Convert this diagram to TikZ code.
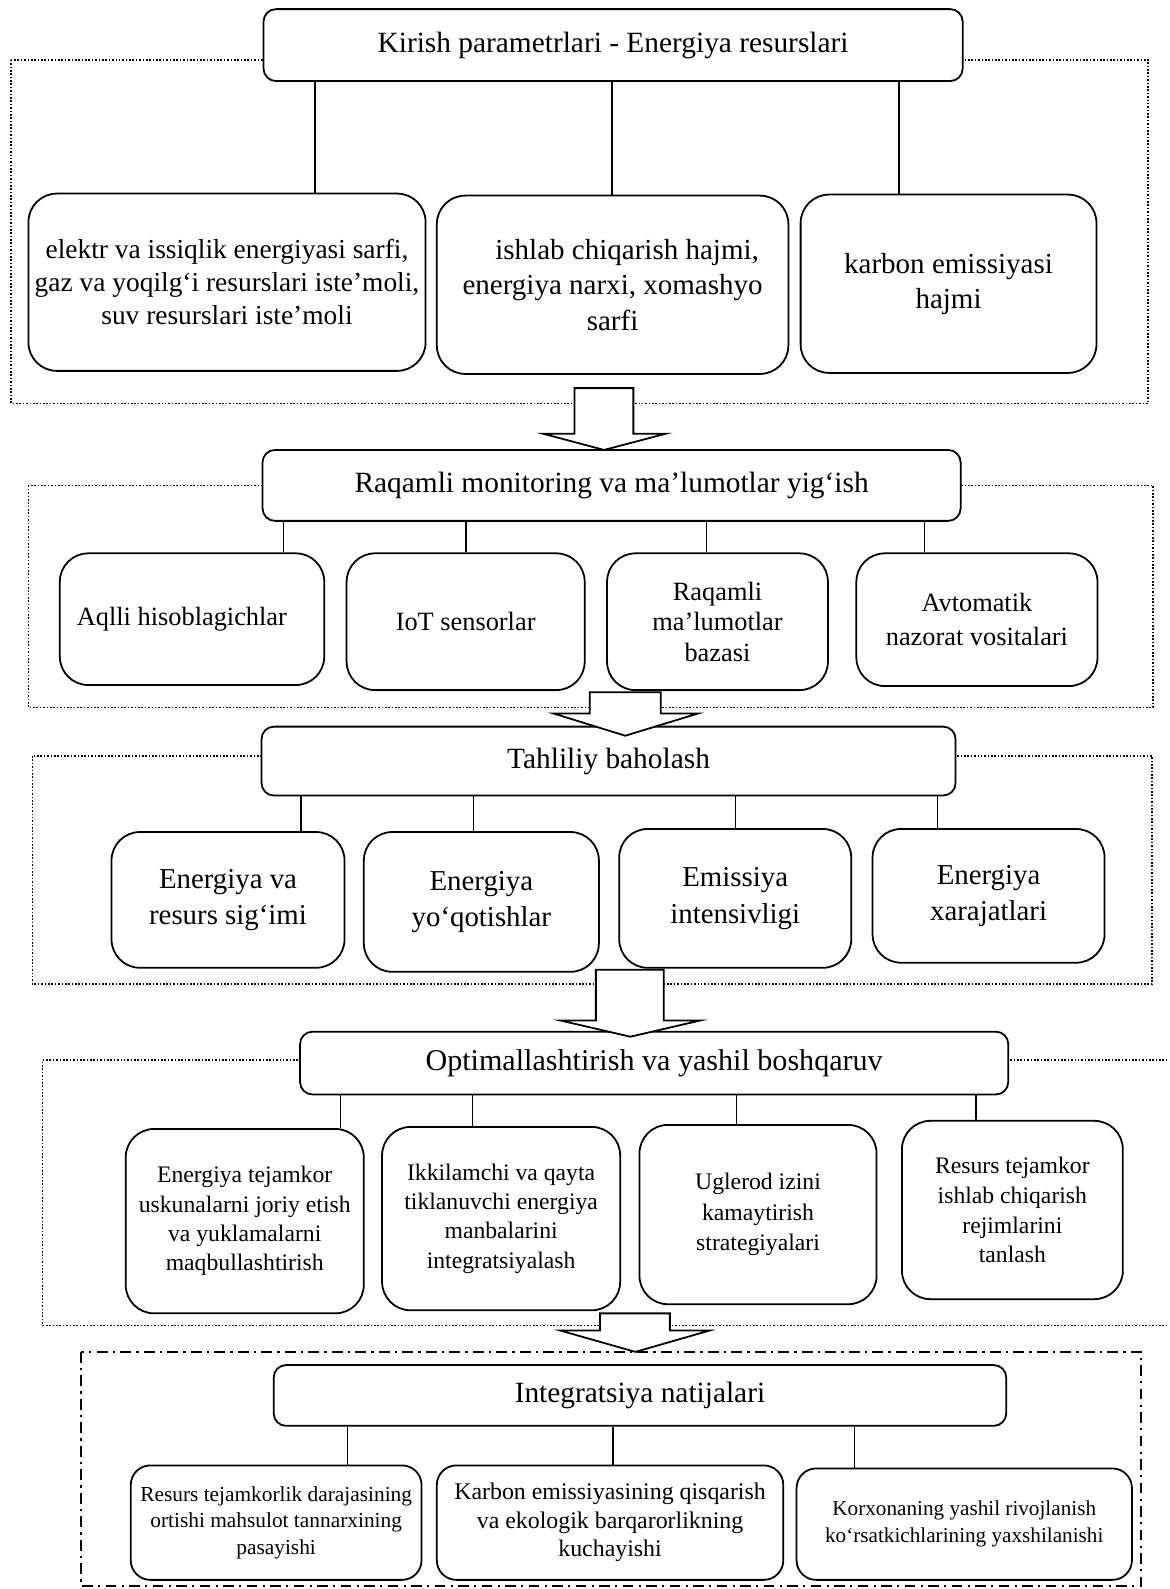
\documentclass[tikz,border=0pt]{standalone}
\usepackage{fontspec}
\setmainfont{Liberation Serif}
\usepackage{tikz}

\tikzset{
	headbox/.style={draw, fill=white, line width=1pt, rounded corners=7pt, align=center, font=\fontsize{16.5}{20}\selectfont},
	itembox/.style={draw, fill=white, line width=1pt, rounded corners=16pt, align=center, inner sep=1pt},
	fsz/.style 2 args={font=\fontsize{#1}{#2}\selectfont},
	dotframe/.style={densely dotted, line width=0.9pt},
	dashframe/.style={line width=0.9pt, dash pattern=on 6pt off 3pt on 1.2pt off 3pt},
	link/.style={line width=0.8pt},
	bigarrow/.style={draw, fill=white, line width=1pt, line join=miter},
}

\begin{document}
\begin{tikzpicture}[x=0.02cm, y=-0.02cm]
	\useasboundingbox (0,0) rectangle (1154,1568);
	\draw[dotframe] (11,59) rectangle (1133,398);
	\draw[dotframe] (28,479) rectangle (1138,698);
	\draw[dotframe] (32,746) rectangle (1137,971);
	\draw[dotframe] (1152,1046) -- (42,1046) -- (42,1308) -- (1152,1308);
	\draw[dashframe] (80,1334) rectangle (1126,1565);

	\node[headbox, minimum width=13.8cm, minimum height=1.42cm] (kirish) at (605,44.5) {Kirish parametrlari - Energiya resurslari};
	\node[itembox, fsz={15.4}{18.5}, minimum width=7.84cm, minimum height=3.5cm] (sarf) at (224,278.5) {elektr va issiqlik energiyasi sarfi,\\ gaz va yoqilg‘i resurslari iste’moli,\\ suv resurslari iste’moli};
	\node[itembox, fsz={16.3}{19.9}, minimum width=6.94cm, minimum height=3.52cm] (hajm) at (604.5,281) {\hspace*{1em}ishlab chiqarish hajmi,\\ energiya narxi, xomashyo\\ sarfi};
	\node[itembox, fsz={16.3}{19.9}, minimum width=5.84cm, minimum height=3.52cm] (karbon) at (936,280) {karbon emissiyasi\\ hajmi};

	\node[headbox, minimum width=13.78cm, minimum height=1.4cm] (monitor) at (603.5,479) {Raqamli monitoring va ma’lumotlar yig‘ish};
	\node[itembox, fsz={14.8}{17}, minimum width=5.22cm, minimum height=2.6cm] (hisob) at (189.5,611) {Aqlli hisoblagichlar\hspace*{0.4cm}};
	\node[itembox, fsz={14.8}{17}, minimum width=4.7cm, minimum height=2.7cm] (sensor) at (459.5,613.5) {IoT sensorlar};
	\node[itembox, fsz={14.8}{17}, minimum width=4.36cm, minimum height=2.7cm] (baza) at (708,613.5) {Raqamli\\ ma’lumotlar\\ bazasi};
	\node[itembox, fsz={14.8}{18.8}, minimum width=4.76cm, minimum height=2.62cm] (nazorat) at (964,611.5) {Avtomatik\\ nazorat vositalari};

	\node[headbox, minimum width=13.7cm, minimum height=1.36cm] (tahlil) at (600.5,751) {Tahliliy baholash};
	\node[itembox, fsz={16.2}{20.5}, minimum width=4.6cm, minimum height=2.68cm] (sigim) at (225,888) {Energiya va\\ resurs sig‘imi};
	\node[itembox, fsz={16.2}{20.5}, minimum width=4.64cm, minimum height=2.76cm] (yoqot) at (475,890) {Energiya\\ yo‘qotishlar};
	\node[itembox, fsz={16.2}{20.5}, minimum width=4.58cm, minimum height=2.74cm] (intens) at (725.5,886.5) {Emissiya\\ intensivligi};
	\node[itembox, fsz={16.2}{20.5}, minimum width=4.58cm, minimum height=2.64cm] (xarajat) at (975.5,884) {Energiya\\ xarajatlari};

	\node[headbox, minimum width=13.98cm, minimum height=1.24cm, fsz={16.9}{20}] (optim) at (645.5,1049) {Optimallashtirish va yashil boshqaruv};
	\node[itembox, fsz={13.3}{16.5}, minimum width=4.7cm, minimum height=3.64cm] (uskuna) at (241.5,1205) {Energiya tejamkor\\ uskunalarni joriy etish\\ va yuklamalarni\\ maqbullashtirish};
	\node[itembox, fsz={13.3}{16.5}, minimum width=4.7cm, minimum height=3.62cm] (manba) at (494.5,1202.5) {Ikkilamchi va qayta\\ tiklanuvchi energiya\\ manbalarini\\ integratsiyalash};
	\node[itembox, fsz={13.3}{17}, minimum width=4.68cm, minimum height=3.54cm] (uglerod) at (748,1198.5) {Uglerod izini\\ kamaytirish\\ strategiyalari};
	\node[itembox, fsz={13.3}{16.8}, minimum width=4.36cm, minimum height=3.52cm] (rejim) at (999,1194) {Resurs tejamkor\\ ishlab chiqarish\\ rejimlarini\\ tanlash};

	\node[headbox, minimum width=14.46cm, minimum height=1.2cm] (natija) at (631.5,1377) {Integratsiya natijalari};
	\node[itembox, rounded corners=11pt, fsz={12}{14.8}, minimum width=5.74cm, minimum height=2.26cm] (tannarx) at (272.5,1502.5) {Resurs tejamkorlik darajasining\\ ortishi mahsulot tannarxining\\ pasayishi};
	\node[itembox, rounded corners=11pt, fsz={13.4}{16}, minimum width=6.84cm, minimum height=2.26cm] (ekolog) at (602,1502.5) {Karbon emissiyasining qisqarish\\ va ekologik barqarorlikning\\ kuchayishi};
	\node[itembox, rounded corners=11pt, fsz={11.9}{15.4}, minimum width=6.62cm, minimum height=2.2cm] (yashil) at (951.5,1504) {Korxonaning yashil rivojlanish\\ ko‘rsatkichlarining yaxshilanishi};

	\foreach \x/\b in {311/sarf,604/hajm,887/karbon}
		\draw[link] (kirish.south -| \x,0) -- (\x,0 |- \b.north);
	\foreach \x/\b in {280/hisob,460/sensor,697/baza,912/nazorat}
		\draw[link] (monitor.south -| \x,0) -- (\x,0 |- \b.north);
	\foreach \x/\b in {297/sigim,467/yoqot,726/intens,925/xarajat}
		\draw[link] (tahlil.south -| \x,0) -- (\x,0 |- \b.north);
	\foreach \x/\b in {336/uskuna,466/manba,727/uglerod,963/rejim}
		\draw[link] (optim.south -| \x,0) -- (\x,0 |- \b.north);
	\foreach \x/\b in {343/tannarx,605/ekolog,843/yashil}
		\draw[link] (natija.south -| \x,0) -- (\x,0 |- \b.north);

	\draw[bigarrow] (567,383) -- (625,383) -- (625,428) -- (657,428) -- (596,444) -- (536,428) -- (567,428) -- cycle;
	\draw[bigarrow] (582,683) -- (652,683) -- (652,704) -- (689,704) -- (617,726) -- (546,704) -- (582,704) -- cycle;
	\draw[bigarrow] (588,957) -- (655,957) -- (655,1007) -- (691,1007) -- (622,1023) -- (553,1007) -- (588,1007) -- cycle;
	\draw[bigarrow] (592,1296) -- (661,1296) -- (661,1313) -- (700,1313) -- (627,1334) -- (553,1313) -- (592,1313) -- cycle;
\end{tikzpicture}
\end{document}
